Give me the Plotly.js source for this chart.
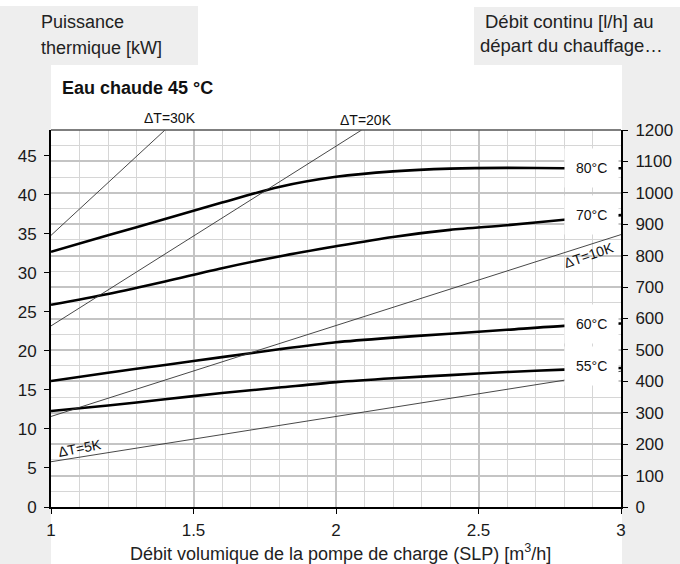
<!DOCTYPE html>
<html>
<head>
<meta charset="utf-8">
<script src="https://cdn.plot.ly/plotly-3.0.1.min.js"></script>
<style>
  html, body { margin: 0; padding: 0; background: #ffffff; }
  #chart { width: 680px; height: 564px; }
</style>
</head>
<body>
<div id="chart"></div>
<script>
// ---- data ----
const flow = [1.0, 1.2, 1.4, 1.6, 1.8, 2.0, 2.2, 2.4, 2.6, 2.8, 3.0];          // m3/h
const p80 = [32.7, 34.8, 36.9, 39.0, 41.0, 42.3, 43.0, 43.35, 43.45, 43.4, 43.4]; // kW
const p70 = [25.9, 27.3, 28.9, 30.6, 32.1, 33.4, 34.6, 35.5, 36.1, 36.8, 37.4];
const p60 = [16.15, 17.2, 18.2, 19.2, 20.2, 21.1, 21.7, 22.2, 22.7, 23.2, 23.5];
const p55 = [12.3, 13.0, 13.8, 14.6, 15.3, 16.0, 16.5, 16.9, 17.3, 17.6, 17.8];
const curveNames = ['80°C', '70°C', '60°C', '55°C'];

const dt30x = [1.0, 1.40];  const dt30y = [34.8, 48.3];
const dt20x = [1.0, 2.09];  const dt20y = [23.2, 48.3];
const dt10x = [1.0, 3.0];   const dt10y = [11.6, 34.9];
const dt5x  = [1.0, 3.0];   const dt5y  = [5.8, 17.4];
const dtNames = ['ΔT=30K', 'ΔT=20K', 'ΔT=10K', 'ΔT=5K'];

const xTicks = [1, 1.5, 2, 2.5, 3];
const xTickText = ['1', '1.5', '2', '2.5', '3'];
const yRange = [0, 48.3];
const y2Range = [0, 1200];

// ---- layout helpers (pixel -> paper) ----
const W = 680, H = 564, L = 51, R = 59, T = 130, B = 57;
const pw = W - L - R, ph = H - T - B;
const px = v => (v - L) / pw;
const py = v => (H - B - v) / ph;

const FONT = 'Liberation Sans, Arial, sans-serif';

const thick = {color: '#000000', width: 2.6, shape: 'spline', smoothing: 0.8};
const thin = {color: '#333333', width: 0.9};

const traces = [
  {x: flow, y: p80, name: curveNames[0], mode: 'lines', line: thick},
  {x: flow, y: p70, name: curveNames[1], mode: 'lines', line: thick},
  {x: flow, y: p60, name: curveNames[2], mode: 'lines', line: thick},
  {x: flow, y: p55, name: curveNames[3], mode: 'lines', line: thick},
  {x: dt30x, y: dt30y, name: dtNames[0], mode: 'lines', line: thin},
  {x: dt20x, y: dt20y, name: dtNames[1], mode: 'lines', line: thin},
  {x: dt10x, y: dt10y, name: dtNames[2], mode: 'lines', line: thin},
  {x: dt5x,  y: dt5y,  name: dtNames[3], mode: 'lines', line: thin},
  // carrier for the right axis (nothing drawn)
  {x: [flow[0]], y: [y2Range[0]], yaxis: 'y2', mode: 'markers', marker: {opacity: 0}, hoverinfo: 'skip'}
];

const grey = '#eeeeee';
const shapes = [
  // grey backgrounds
  {type: 'rect', xref: 'paper', yref: 'paper', layer: 'below', x0: px(0), x1: px(198), y0: py(65), y1: py(6), fillcolor: grey, line: {width: 0}},
  {type: 'rect', xref: 'paper', yref: 'paper', layer: 'below', x0: px(0), x1: px(51), y0: py(564), y1: py(6), fillcolor: grey, line: {width: 0}},
  {type: 'rect', xref: 'paper', yref: 'paper', layer: 'below', x0: px(474), x1: px(680), y0: py(65), y1: py(7), fillcolor: grey, line: {width: 0}},
  {type: 'rect', xref: 'paper', yref: 'paper', layer: 'below', x0: px(622), x1: px(680), y0: py(564), y1: py(7), fillcolor: grey, line: {width: 0}},
  // top border of the plot
  {type: 'line', xref: 'paper', yref: 'paper', x0: 0, x1: 1, y0: 1, y1: 1, line: {color: '#555555', width: 1.5}}
];

const labelFont = {family: FONT, size: 14, color: '#111111'};
const dtFont = {family: FONT, size: 14, color: '#111111'};
function curveLabel(text, yPix) {
  return {text: text, xref: 'paper', yref: 'paper', x: px(591), y: py(yPix),
          xanchor: 'center', yanchor: 'middle', showarrow: false, font: labelFont,
          bgcolor: '#ffffff', borderpad: 11};
}

const annotations = [
  curveLabel(curveNames[0], 167.5),
  curveLabel(curveNames[1], 214.5),
  curveLabel(curveNames[2], 324),
  curveLabel(curveNames[3], 366),
  {text: dtNames[0], xref: 'paper', yref: 'paper', x: px(170), y: py(117.5), showarrow: false, font: dtFont, xanchor: 'center', yanchor: 'middle'},
  {text: dtNames[1], xref: 'paper', yref: 'paper', x: px(366), y: py(120), showarrow: false, font: dtFont, xanchor: 'center', yanchor: 'middle'},
  {text: dtNames[2], xref: 'paper', yref: 'paper', x: px(589), y: py(255), showarrow: false, font: dtFont, xanchor: 'center', yanchor: 'middle', textangle: -19},
  {text: dtNames[3], xref: 'paper', yref: 'paper', x: px(80), y: py(448), showarrow: false, font: dtFont, xanchor: 'center', yanchor: 'middle', textangle: -11},
  // axis titles placed as in the reference
  {text: 'Puissance', xref: 'paper', yref: 'paper', x: px(39), y: py(22), xanchor: 'left', yanchor: 'middle', showarrow: false, font: {family: FONT, size: 18, color: '#222222'}},
  {text: 'thermique [kW]', xref: 'paper', yref: 'paper', x: px(39), y: py(48.5), xanchor: 'left', yanchor: 'middle', showarrow: false, font: {family: FONT, size: 18, color: '#222222'}},
  {text: 'Débit continu [l/h] au', xref: 'paper', yref: 'paper', x: px(569), y: py(21), xanchor: 'center', yanchor: 'middle', showarrow: false, font: {family: FONT, size: 18.5, color: '#222222'}},
  {text: 'départ du chauffage…', xref: 'paper', yref: 'paper', x: px(571), y: py(45.5), xanchor: 'center', yanchor: 'middle', showarrow: false, font: {family: FONT, size: 18.5, color: '#222222'}},
  {text: 'Débit volumique de la pompe de charge (SLP) [m<sup>3</sup>/h]', xref: 'paper', yref: 'paper', x: px(340), y: py(552), xanchor: 'center', yanchor: 'middle', showarrow: false, font: {family: FONT, size: 18, color: '#222222'}}
];

const tickFont = {family: FONT, size: 17, color: '#1a1a1a'};

const layout = {
  width: W, height: H,
  margin: {l: L, r: R, t: T, b: B, pad: 0},
  paper_bgcolor: 'rgba(0,0,0,0)',
  plot_bgcolor: '#ffffff',
  showlegend: false,
  hovermode: false,
  title: {text: '<b>Eau chaude 45 °C</b>', x: 62 / W, xanchor: 'left', xref: 'container',
          y: 1 - 88 / H, yanchor: 'middle', yref: 'container',
          font: {family: FONT, size: 18, color: '#111111'}},
  xaxis: {
    range: [1, 3], tickvals: xTicks, ticktext: xTickText,
    showgrid: true, gridcolor: '#c4c4c4', gridwidth: 2,
    minor: {dtick: 0.1, showgrid: true, gridcolor: '#d6d6d6', gridwidth: 1},
    showline: true, linecolor: '#000000', linewidth: 2,
    ticks: 'outside', ticklen: 5, tickwidth: 1, tickcolor: '#000000',
    tickfont: tickFont, ticklabelstandoff: 2,
    zeroline: false, fixedrange: true
  },
  yaxis: {
    range: yRange, dtick: 5, tick0: 0,
    showgrid: false, zeroline: false,
    showline: true, linecolor: '#000000', linewidth: 2,
    ticks: 'outside', ticklen: 5, tickwidth: 1, tickcolor: '#000000',
    tickfont: tickFont, ticklabelstandoff: 4,
    fixedrange: true
  },
  yaxis2: {
    range: y2Range, dtick: 100, tick0: 0, overlaying: 'y', side: 'right',
    showgrid: true, gridcolor: '#c4c4c4', gridwidth: 2,
    minor: {dtick: 50, showgrid: true, gridcolor: '#d6d6d6', gridwidth: 1},
    showline: true, linecolor: '#000000', linewidth: 2,
    ticks: 'outside', ticklen: 5, tickwidth: 1, tickcolor: '#000000',
    tickfont: tickFont, ticklabelstandoff: 4,
    zeroline: false, fixedrange: true
  },
  shapes: shapes,
  annotations: annotations
};

Plotly.newPlot('chart', traces, layout, {displayModeBar: false, staticPlot: true});
</script>
</body>
</html>
